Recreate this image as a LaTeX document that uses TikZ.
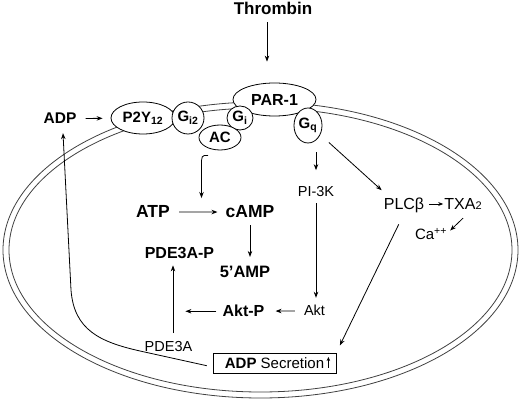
\documentclass[tikz,border=0pt]{standalone}
\usepackage{fontspec}
\setmainfont{Liberation Sans}
\usetikzlibrary{calc,shapes.geometric,arrows.meta}
\def\fs#1{\fontsize{#1}{#1}\selectfont}

\begin{document}
\begin{tikzpicture}[x=1pt, y=-1pt,
	arr/.style={-{Stealth[length=6pt,width=4.5pt]}, line width=0.8pt},
	mem/.style={line width=0.8pt, color=black!75},
	rec/.style={ellipse, draw, fill=white, line width=0.8pt, inner sep=0pt, font=\fs{15}\bfseries},
	txt/.style={inner sep=0pt, anchor=base, font=\fs{14.5}},
	btxt/.style={inner sep=0pt, anchor=base, font=\fs{16}\bfseries}]
			%%%%% START %%%%%
			\useasboundingbox (0,0) rectangle (520,403);
			
			\draw[mem] (260.5,250) ellipse [x radius=257.5pt, y radius=148pt];
			\draw[mem] (260.5,250) ellipse [x radius=251.5pt, y radius=142pt];
			
			\node[btxt, font=\fs{17}\bfseries] (thrombin) at (273,15) {Thrombin};
			\node[btxt, font=\fs{15.5}\bfseries] (adp) at (60,124) {ADP};
			
			\node[rec, minimum width=83pt, minimum height=33pt, font=\fs{16}\bfseries] (par) at (274.5,99.5) {PAR-1};
			\node[rec, minimum width=64pt, minimum height=32pt] (p2y) at (143,118) {P2Y\textsubscript{12}};
			\node[rec, minimum width=32pt, minimum height=32pt] (gi2) at (188,118) {G\textsubscript{i2}};
			\node[rec, minimum width=26pt, minimum height=24pt] (gi) at (240,118) {G\textsubscript{i}};
			\node[rec, minimum width=42pt, minimum height=25pt] (ac) at (220,137.5) {AC};
			\node[rec, minimum width=28pt, minimum height=35pt] (gq) at (308,125.5) {G\textsubscript{q}};
			
			\node[btxt, font=\fs{17.5}\bfseries] (atp) at (153,218) {ATP};
			\node[btxt, font=\fs{17.5}\bfseries] (camp) at (250,218) {cAMP};
			\node[btxt] (pdep) at (179.5,259) {PDE3A-P};
			\node[btxt, font=\fs{16.5}\bfseries] (amp) at (245,278) {5’AMP};
			\node[btxt] (aktp) at (243.5,317) {Akt-P};
			\node[txt] (akt) at (314.5,316) {Akt};
			\node[txt] (pde) at (168.5,352) {PDE3A};
			\node[txt] (pi3k) at (316,197) {PI-3K};
			\node[txt, font=\fs{16}] (plc) at (404,210) {PLCβ};
			\node[txt, font=\fs{16}] (txa) at (463,210) {TXA{\fs{11}2}};
			\node[txt, font=\fs{15}] (ca) at (431,240) {Ca\textsuperscript{++}};
			
			\node[draw, line width=0.8pt, minimum width=123pt, minimum height=20pt, inner sep=0pt, font=\fs{15}] (sec) at (274.5,363) {\textbf{ADP} Secretion\hspace{13pt}};
			\coordinate (cyc) at ($(atp)!.5!(camp)+(0,-14)$);
			
			\draw[arr, shorten >=21pt] ($(thrombin.south)+(-6,7)$) -- ($(thrombin.south |- par.north)+(-6,0)$);
			\draw[arr, shorten <=9pt, shorten >=8pt] (adp) -- (p2y);
			\draw[arr, shorten <=6pt] ([yshift=-4pt]sec.west) -- (140,351) .. controls (100,342) and (74,330) .. (71,290) -- ($(adp.south)+(3,9)$);
			
			\draw[arr, shorten <=9pt, shorten >=16.5pt] (gq.south -| pi3k) -- (pi3k.north);
			\draw[arr] ($(gq.-40)+(9,7)$) -- ($(plc.north west)+(-2,-8)$);
			\draw[arr, -{Stealth[length=5pt,width=4pt]}, shorten <=5pt, shorten >=1pt] ([yshift=6pt]plc.base east) -- ([yshift=6pt]txa.base west);
			\draw[arr] ($(txa.south)+(0,8)$) -- ($(ca.north east)+(3,2)$);
			\draw[arr, shorten <=12pt, shorten >=8pt] (plc.south) -- (sec.north east);
			
			\draw[arr] ($(ac.south)+(-12,5)$) .. controls ($(ac.south)+(-18.5,5)$) .. ($(ac.south)+(-18.5,16)$) -- (cyc);
			\draw[arr, shorten <=9pt, shorten >=8pt] (atp) -- (camp);
			\draw[arr, shorten <=7pt, shorten >=9.5pt] (camp.south) -- (camp.south |- amp.north);
			\draw[arr, shorten <=6pt, shorten >=7.5pt] (pi3k.south) -- (pi3k.south |- akt.north);
			\draw[arr, shorten <=9pt, shorten >=11pt] (akt) -- (aktp);
			\draw[arr, shorten <=6pt] (aktp.west) -- ++(-37,0);
			\draw[arr, shorten <=8.5pt, shorten >=6pt] ($(pde.north)+(4.5,0)$) -- ($(pde.north |- pdep.south)+(4.5,0)$);
			
			\draw[arr, -{Stealth[length=4pt,width=3.5pt]}, line width=0.6pt] ([xshift=-8pt,yshift=-5pt]sec.east) -- ([xshift=-8pt,yshift=6pt]sec.east);
			%%%%% END %%%%%
\end{tikzpicture}
\end{document}
